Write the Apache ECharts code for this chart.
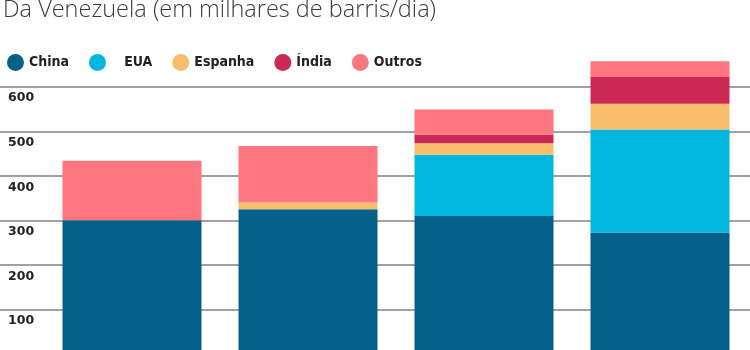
<!DOCTYPE html>
<html>
<head>
<meta charset="utf-8">
<script src="https://cdn.jsdelivr.net/npm/echarts@6/dist/echarts.min.js"></script>
<style>
  html, body { margin: 0; padding: 0; background: #fff; overflow: hidden; }
  /* o eixo zero fica logo abaixo do recorte */
  #chart { width: 750px; height: 354px; }
</style>
</head>
<body>
<div id="chart"></div>
<script>
// periodos (rotulos do eixo x ficam fora do recorte)
var categories = ["1", "2", "3", "4"];
var china = [300, 325, 310, 273];
var eua = [0, 0, 137, 231];
var espanha = [0, 15, 26, 58];
var india = [0, 0, 19, 60];
var outros = [134, 127, 57, 35];
var yTicks = [0, 100, 200, 300, 400, 500, 600];

var colors = {
  China: "#03618a",
  EUA: "#00b7df",
  Espanha: "#f8be6c",
  "Índia": "#cb2853",
  Outros: "#fe7780"
};

function barSeries(name, values) {
  return {
    name: name,
    type: "bar",
    stack: "total",
    xAxisIndex: 1,
    yAxisIndex: 1,
    barWidth: 139,
    itemStyle: { color: colors[name] },
    emphasis: { disabled: true },
    data: values
  };
}

var gridTop = 86.7;
var gridH = 354 - gridTop;

var chart = echarts.init(document.getElementById("chart"));
chart.setOption({
  animation: false,
  title: {
    text: "Da Venezuela (em milhares de barris/dia)",
    left: -2,
    top: -7,
    textStyle: {
      fontFamily: "Open Sans",
      fontWeight: 300,
      fontSize: 23.5,
      color: "#3a3a3a"
    }
  },
  legend: {
    left: 7,
    top: 54,
    padding: 0,
    icon: "circle",
    itemWidth: 17,
    itemHeight: 17,
    itemGap: 20,
    selectedMode: false,
    formatter: function (name) {
      // no original o rotulo EUA tem um espaco maior
      return name === "EUA" ? "   EUA" : name;
    },
    textStyle: {
      fontFamily: "DejaVu Sans Condensed",
      fontWeight: "bold",
      fontSize: 14,
      color: "#222"
    },
    data: ["China", "EUA", "Espanha", "Índia", "Outros"]
  },
  grid: [
    // grade de fundo a toda a largura
    { left: 0, right: 0, top: gridTop, bottom: 0 },
    // barras (mesma escala, max 700)
    { left: 44, right: 2, top: gridTop - gridH / 6, bottom: 0 }
  ],
  xAxis: [
    { type: "category", gridIndex: 0, data: categories, show: false },
    { type: "category", gridIndex: 1, data: categories, show: false }
  ],
  yAxis: [
    {
      type: "value",
      gridIndex: 0,
      min: yTicks[0],
      max: yTicks[yTicks.length - 1],
      interval: 100,
      axisLine: { show: false },
      axisTick: { show: false },
      splitLine: { lineStyle: { color: "#828282", width: 1.5 } },
      axisLabel: {
        inside: true,
        margin: 8,
        verticalAlign: "top",
        padding: [5, 0, 0, 0],
        fontFamily: "DejaVu Sans",
        fontWeight: "bold",
        fontSize: 12.5,
        color: "#222",
        formatter: function (v) { return v === 0 ? "" : v; }
      }
    },
    {
      type: "value",
      gridIndex: 1,
      min: 0,
      max: 700,
      interval: 100,
      show: false,
      splitLine: { show: false }
    }
  ],
  series: [
    barSeries("China", china),
    barSeries("EUA", eua),
    barSeries("Espanha", espanha),
    barSeries("Índia", india),
    barSeries("Outros", outros)
  ]
});
</script>
</body>
</html>
